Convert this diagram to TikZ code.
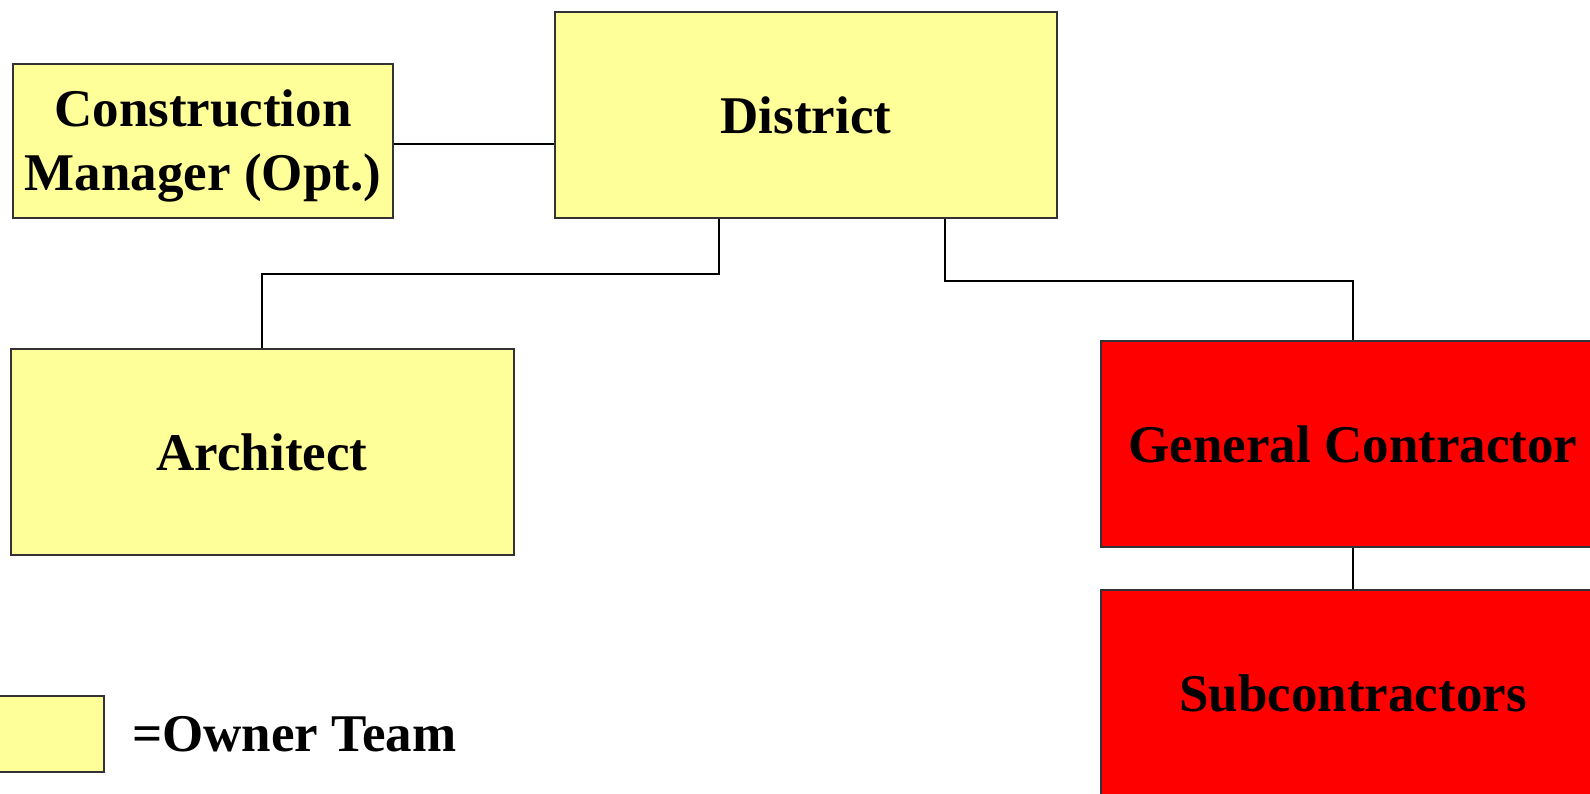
\documentclass[tikz,border=0pt]{standalone}
\usepackage{fontspec}
\setmainfont{Liberation Serif}
\usepackage{tikz}

\definecolor{ownerfill}{HTML}{FFFF99}
\definecolor{contrfill}{HTML}{FF0000}
\definecolor{boxline}{HTML}{333333}

\begin{document}
\begin{tikzpicture}[x=1pt, y=1pt, node distance=249pt,
    every node/.style={font=\fontsize{53}{63.6}\selectfont\bfseries},
    owner/.style={rectangle, draw=boxline, line width=2pt, fill=ownerfill, inner sep=0pt, align=center},
    contr/.style={rectangle, draw=boxline, line width=2pt, fill=contrfill, inner sep=0pt,
        minimum width=504pt, minimum height=206pt, align=center},
    link/.style={draw=black, line width=1.5pt}]
    \useasboundingbox (0,0) rectangle (1590,793);
    \clip (0,0) rectangle (1590,793);

    \node[owner, minimum width=502pt, minimum height=206pt] (district) at (806,678) {District};
    \node[owner, minimum width=380pt, minimum height=154pt] (cm) at (203,652)
        {\raisebox{-5pt}[\height][\depth]{\begin{tabular}{@{}c@{}}Construction\\Manager (Opt.)\end{tabular}}};
    \node[owner, minimum width=503pt, minimum height=206pt] (arch) at (262,341) {Architect};
    \node[contr] (gc) at (1353,349) {General Contractor};
    \node[contr, below of=gc] (sub) {Subcontractors};

    % legend
    \node[owner, minimum width=106pt, minimum height=76pt] (key) at (51,59) {};
    \node[anchor=west, inner sep=0pt] (keytext) at (132,59) {=Owner Team};

    \coordinate (jc) at (555,649);
    \coordinate (ja) at (719,519);
    \coordinate (jg) at (945,512);

    \draw[link] (jc -| cm.east) -- (jc -| district.west);
    \draw[link] (ja |- district.south) -- (ja) -| (arch.north);
    \draw[link] (jg |- district.south) -- (jg) -| (gc.north);
    \draw[link] (gc) -- (sub);
\end{tikzpicture}
\end{document}
